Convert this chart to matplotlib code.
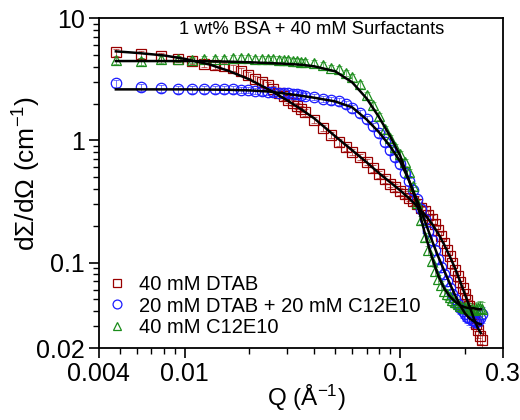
import matplotlib
matplotlib.use("Agg")
import matplotlib.pyplot as plt
from matplotlib.ticker import FixedLocator, NullFormatter
import numpy as np

plt.rcParams['font.family'] = ['Liberation Sans', 'DejaVu Sans']
plt.rcParams['mathtext.fontset'] = 'custom'
plt.rcParams['mathtext.rm'] = 'Liberation Sans'
plt.rcParams['mathtext.it'] = 'Liberation Sans'

# ---------------- data ----------------
q = [0.0048, 0.0063, 0.0078, 0.0093, 0.0108, 0.0123, 0.0138, 0.0153, 0.0168, 0.0183,
     0.0198, 0.0213, 0.0228, 0.0243, 0.0258, 0.0273, 0.0288, 0.0303, 0.0318, 0.0333,
     0.0348, 0.0363,
     0.040, 0.044, 0.048, 0.052, 0.056, 0.060, 0.065, 0.070, 0.075, 0.080,
     0.085, 0.090, 0.095, 0.100, 0.105, 0.110, 0.115, 0.120, 0.125, 0.130,
     0.135, 0.140, 0.145, 0.150, 0.155, 0.160, 0.165, 0.170, 0.175, 0.180,
     0.185, 0.190, 0.195, 0.200, 0.205, 0.210, 0.215, 0.220, 0.225, 0.230,
     0.235, 0.240]

i_dtab = [5.24, 5.05, 4.86, 4.62, 4.45, 4.22, 4.10, 4.04, 3.92, 3.67,
          3.43, 3.18, 2.98, 2.82, 2.64, 2.45, 2.29, 2.14, 2.03, 1.91,
          1.81, 1.69,
          1.47, 1.27, 1.11, 0.963, 0.877, 0.805, 0.733, 0.667, 0.59, 0.527,
          0.48, 0.441, 0.413, 0.383, 0.362, 0.339, 0.32, 0.303, 0.281, 0.263,
          0.244, 0.226, 0.206, 0.184, 0.164, 0.144, 0.126, 0.113, 0.0987, 0.0865,
          0.0773, 0.069, 0.0616, 0.055, 0.0492, 0.0439, 0.0392, 0.035, 0.0313, 0.0279,
          0.0249, 0.0232]

i_mix = [2.92, 2.71, 2.66, 2.61, 2.61, 2.61, 2.61, 2.61, 2.61, 2.59,
         2.57, 2.55, 2.52, 2.49, 2.47, 2.46, 2.45, 2.43, 2.41, 2.38,
         2.35, 2.31,
         2.27, 2.17, 2.12, 2.08, 1.97, 1.83, 1.66, 1.48, 1.30, 1.14,
         0.963, 0.829, 0.726, 0.636, 0.537, 0.462, 0.390, 0.329, 0.273, 0.226,
         0.18, 0.152, 0.126, 0.106, 0.0916, 0.0803, 0.0705, 0.0616, 0.055, 0.0501,
         0.0456, 0.0422, 0.0399, 0.0376, 0.0362, 0.0350, 0.034, 0.033, 0.0325, 0.033,
         0.035, 0.038]

i_c12 = [4.51, 4.43, 4.59, 4.62, 4.55, 4.60, 4.62, 4.65, 4.68, 4.68,
         4.68, 4.66, 4.65, 4.63, 4.60, 4.58, 4.55, 4.52, 4.48, 4.44,
         4.40, 4.35,
         4.25, 4.10, 3.92, 3.80, 3.55, 3.27, 2.87, 2.33, 1.93, 1.57,
         1.23, 1.04, 0.877, 0.768, 0.661, 0.548, 0.42, 0.305, 0.222, 0.161,
         0.126, 0.103, 0.085, 0.073, 0.065, 0.059, 0.055, 0.052, 0.0492, 0.0473,
         0.0456, 0.0439, 0.0431, 0.0423, 0.0423, 0.0415, 0.0415, 0.0407, 0.0415, 0.0423,
         0.0423, 0.0415]

rel_err = [0.06, 0.06, 0.06, 0.06, 0.06, 0.06, 0.06, 0.06, 0.06, 0.06,
           0.06, 0.06, 0.06, 0.06, 0.06, 0.06, 0.06, 0.06, 0.06, 0.06,
           0.06, 0.06, 0.06, 0.06, 0.06, 0.06, 0.06, 0.06, 0.06, 0.06,
           0.06, 0.06, 0.06, 0.06, 0.06, 0.06,
           0.065, 0.065, 0.07, 0.07, 0.075, 0.075, 0.08, 0.08, 0.085, 0.085,
           0.09, 0.09, 0.095, 0.095, 0.10, 0.10, 0.105, 0.105, 0.11, 0.11,
           0.115, 0.115, 0.12, 0.12, 0.125, 0.13, 0.14, 0.15]

q_fit = [0.0048, 0.006, 0.008, 0.010, 0.013, 0.016, 0.020, 0.025, 0.030, 0.035,
         0.040, 0.050, 0.060, 0.070, 0.080, 0.090, 0.100, 0.110, 0.120, 0.130,
         0.140, 0.150, 0.160, 0.170, 0.180, 0.190, 0.200, 0.210, 0.220, 0.230,
         0.237]

fit_dtab = [5.34, 5.19, 4.95, 4.64, 4.18, 3.70, 3.15, 2.56, 2.12, 1.78,
            1.51, 1.08, 0.828, 0.661, 0.537, 0.454, 0.39, 0.336, 0.289, 0.248,
            0.21, 0.174, 0.141, 0.113, 0.0898, 0.0703, 0.055, 0.0439, 0.035, 0.029,
            0.0265]
fit_mix = [2.61, 2.61, 2.61, 2.61, 2.60, 2.59, 2.56, 2.50, 2.40, 2.31,
           2.23, 2.08, 1.86, 1.48, 1.16, 0.893, 0.674, 0.471, 0.323, 0.222,
           0.155, 0.113, 0.0865, 0.0678, 0.0541, 0.0447, 0.0385, 0.035, 0.033, 0.0318,
           0.0313]
fit_c12 = [4.45, 4.45, 4.45, 4.45, 4.43, 4.40, 4.35, 4.28, 4.22, 4.15,
           4.03, 3.67, 2.98, 2.20, 1.54, 1.08, 0.754, 0.471, 0.305, 0.177,
           0.113, 0.079, 0.0616, 0.053, 0.048, 0.0447, 0.0431, 0.0423, 0.0423, 0.0415,
           0.0415]

labels = ['40 mM DTAB', '20 mM DTAB + 20 mM C12E10', '40 mM C12E10']
colors = ['#990000', '#1a1aff', '#1a8c1a']
markers = ['s', 'o', '^']
title_text = '1 wt% BSA + 40 mM Surfactants'

# ---------------- plot ----------------
fig = plt.figure(figsize=(5.2, 4.2), dpi=100)
ax = fig.add_axes([0.19, 0.1714, 0.777, 0.7856])

series = [i_dtab, i_mix, i_c12]
msizes = [7.0, 7.5, 7.5]
qa = np.array(q)
ra = np.array(rel_err)
for ys, c, m, lab, ms in zip(series, colors, markers, labels, msizes):
    ya = np.array(ys)
    ax.errorbar(qa, ya, yerr=ya * ra, fmt='none', ecolor=c, elinewidth=0.7,
                capsize=2.5, capthick=0.7, alpha=0.6, zorder=2)
    ax.plot(qa, ya, linestyle='none', marker=m, markersize=ms,
            markerfacecolor='none', markeredgecolor=c, markeredgewidth=0.9,
            label=lab, zorder=3)

for fy in [fit_dtab, fit_mix, fit_c12]:
    ax.plot(q_fit, fy, color='black', linewidth=1.8, zorder=4)

ax.set_xscale('log')
ax.set_yscale('log')
ax.set_xlim(0.004, 0.3)
ax.set_ylim(0.02, 10)

ax.xaxis.set_major_locator(FixedLocator([0.004, 0.01, 0.1, 0.3]))
ax.set_xticklabels(['0.004', '0.01', '0.1', '0.3'])
xminor = [0.005, 0.006, 0.007, 0.008, 0.009, 0.02, 0.03, 0.04, 0.05, 0.06,
          0.07, 0.08, 0.09, 0.2]
ax.xaxis.set_minor_locator(FixedLocator(xminor))
ax.xaxis.set_minor_formatter(NullFormatter())

ax.yaxis.set_major_locator(FixedLocator([0.02, 0.1, 1, 10]))
ax.set_yticklabels(['0.02', '0.1', '1', '10'])
yminor = [0.03, 0.04, 0.05, 0.06, 0.07, 0.08, 0.09,
          0.2, 0.3, 0.4, 0.5, 0.6, 0.7, 0.8, 0.9,
          2, 3, 4, 5, 6, 7, 8, 9]
ax.yaxis.set_minor_locator(FixedLocator(yminor))
ax.yaxis.set_minor_formatter(NullFormatter())

ax.tick_params(which='major', direction='out', length=7, width=1.2,
               labelsize=18, top=False, right=False, pad=3)
ax.tick_params(which='minor', direction='out', length=4, width=1.0,
               top=False, right=False)
for s in ax.spines.values():
    s.set_linewidth(1.3)

ax.set_xlabel('Q (Å$^{-1}$)', fontsize=17.5)
ax.set_ylabel('d$\\Sigma$/d$\\Omega$ (cm$^{-1}$)', fontsize=19)
ax.xaxis.set_label_coords(0.513, -0.105)
ax.yaxis.set_label_coords(-0.137, 0.53)

ax.text(0.527, 0.99, title_text, transform=ax.transAxes, ha='center', va='top',
        fontsize=13.2)

leg = ax.legend(loc='lower left', bbox_to_anchor=(0.0, 0.0), frameon=False,
                fontsize=14.5, handlelength=0.7, handletextpad=0.75,
                labelspacing=0.12, borderaxespad=0.25, borderpad=0.3,
                markerscale=0.85)

fig.savefig('out.png', dpi=100)
